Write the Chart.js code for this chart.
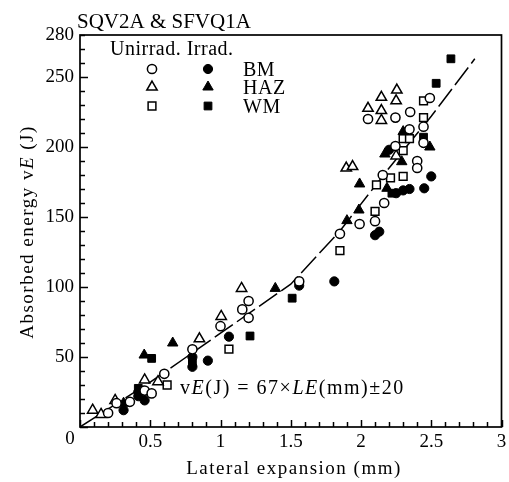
<!DOCTYPE html>
<html>
<head>
<meta charset="UTF-8">
<title>SQV2A & SFVQ1A</title>
<script src="https://cdn.jsdelivr.net/npm/chart.js"></script>
<style>
  body { margin: 0; background: #fff; }
  canvas { display: block; }
</style>
</head>
<body>
<canvas id="chart" width="509" height="482"></canvas>
<script>
// lateral expansion (mm) vs absorbed energy (J), pairs of [LE, vE]
const bmUnirrad = [[0.20,10],[0.26,17],[0.355,18],[0.46,26],[0.51,24],[0.60,38],[0.80,55.5],[1.00,72],
  [1.155,84],[1.20,90],[1.20,78],[1.56,104],[1.85,138],[1.99,145],[2.10,147],[2.155,180],[2.165,160],
  [2.05,220],[2.245,221],[2.35,225],[2.445,214.5],[2.345,212.6],[2.445,203],[2.245,200.7],[2.40,190],
  [2.40,185],[2.49,235]];
const bmIrrad = [[0.31,12],[0.415,22],[0.415,25],[0.46,19],[0.80,43],[0.80,50],[0.91,47.4],[1.06,64.5],
  [1.56,101],[1.81,104],[2.10,137],[2.13,139.5],[2.25,167],[2.30,169],[2.345,170],[2.45,170.5],
  [2.50,179],[2.20,198]];
const hazUnirrad = [[0.09,12],[0.15,9],[0.25,19],[0.46,33.6],[0.555,32.4],[0.85,63],[1.005,79],[1.15,99],
  [1.895,185],[1.94,186],[2.05,227.6],[2.145,235.5],[2.145,226],[2.145,219],[2.255,240.7],[2.25,233],
  [2.25,193.6]];
const hazIrrad = [[0.31,17],[0.457,51.4],[0.66,60],[1.39,99],[1.90,147.4],[1.985,155],[1.99,173.6],
  [2.185,170.5],[2.17,195],[2.29,189.5],[2.30,211],[2.49,200]];
const wmUnirrad = [[0.62,30],[1.06,55.7],[1.85,126],[2.10,154],[2.11,173],[2.21,178],[2.30,179],
  [2.30,197.4],[2.30,206],[2.345,206],[2.445,221],[2.445,233]];
const wmIrrad = [[0.415,27.6],[0.51,49],[0.80,46],[1.21,65],[1.51,92],[2.22,167],[2.445,207],
  [2.535,245.5],[2.64,263]];

// trend curve
const fitLE = [0, 0.5, 1.0, 1.5, 1.85, 2.2, 2.5, 2.81];
const fitE = [0, 32, 67, 102, 140, 185, 222, 263];

const xTickLabels = ['0.5', '1', '1.5', '2', '2.5', '3'];
const yTickLabels = ['50', '100', '150', '200', '250', '280'];
const groups = ['BM', 'HAZ', 'WM'];

const serif = '"Liberation Serif", "DejaVu Serif", serif';

const toPts = arr => arr.map(([x, y]) => ({ x, y }));

const markers = {
  circle: { pointStyle: 'circle', r: 4.6 },
  triangle: { pointStyle: 'triangle', r: 6 },
  rect: { pointStyle: 'rect', r: 5.5 }
};

function series(label, arr, shape, filled) {
  return {
    label: label,
    data: toPts(arr),
    pointStyle: markers[shape].pointStyle,
    pointRadius: markers[shape].r,
    backgroundColor: filled ? '#000' : '#fff',
    borderColor: '#000',
    borderWidth: filled ? 1 : 1.5,
    showLine: false
  };
}

function labelOf(v, list) {
  const s = String(Math.round(v * 10) / 10);
  return list.includes(s) ? s : '';
}

// draws a row of text pieces, some of them italic
function drawRuns(ctx, runs, x, y, size, align) {
  let total = 0;
  runs.forEach(([t, it]) => {
    ctx.font = (it ? 'italic ' : '') + size + 'px ' + serif;
    total += ctx.measureText(t).width;
  });
  let cx = align === 'center' ? x - total / 2 : x;
  ctx.textAlign = 'left';
  runs.forEach(([t, it]) => {
    ctx.font = (it ? 'italic ' : '') + size + 'px ' + serif;
    ctx.fillText(t, cx, y);
    cx += ctx.measureText(t).width;
  });
}

const framePlugin = {
  id: 'frame',
  afterDatasetsDraw(chart) {
    const { ctx, chartArea: a, scales } = chart;
    ctx.save();
    ctx.setLineDash([]);
    ctx.strokeStyle = '#000';
    ctx.lineWidth = 1.7;
    ctx.strokeRect(a.left, a.top, a.right - a.left, a.bottom - a.top);
    // inward ticks: every 10 J, every 0.1 mm
    ctx.lineWidth = 1.5;
    for (let i = 0; i <= 28; i++) {
      const py = Math.round(scales.y.getPixelForValue(i * 10)) + 0.5;
      ctx.beginPath();
      ctx.moveTo(a.left, py);
      ctx.lineTo(a.left + (i % 5 === 0 ? 8 : 5), py);
      ctx.stroke();
    }
    for (let i = 0; i <= 30; i++) {
      const px = Math.round(scales.x.getPixelForValue(i / 10)) + 0.5;
      ctx.beginPath();
      ctx.moveTo(px, a.bottom);
      ctx.lineTo(px, a.bottom - (i % 5 === 0 ? 7 : 5));
      ctx.stroke();
    }
    ctx.restore();
  },
  afterDraw(chart) {
    const { ctx } = chart;
    ctx.save();
    ctx.fillStyle = '#000';
    ctx.textBaseline = 'alphabetic';
    ctx.letterSpacing = '0px';

    // heading
    drawRuns(ctx, [['SQV2A & SFVQ1A', false]], 77, 28, 21, 'left');

    // shared origin label
    ctx.font = '19px ' + serif;
    ctx.textAlign = 'center';
    ctx.fillText('0', 70, 444);

    // axis titles
    ctx.letterSpacing = '1.5px';
    drawRuns(ctx, [['Lateral expansion (mm)', false]], 294, 474, 19, 'center');
    ctx.save();
    ctx.translate(33, 232);
    ctx.rotate(-Math.PI / 2);
    drawRuns(ctx, [['Absorbed energy v', false], ['E', true], [' (J)', false]], 0, 0, 19, 'center');
    ctx.restore();

    // legend
    ctx.letterSpacing = '0.5px';
    drawRuns(ctx, [['Unirrad. Irrad.', false]], 110, 55, 20, 'left');
    const shapes = ['circle', 'triangle', 'rect'];
    const rows = [69, 87, 106];
    groups.forEach((g, i) => {
      const m = markers[shapes[i]];
      [[152, false], [208, true]].forEach(([x, filled]) => {
        ctx.fillStyle = filled ? '#000' : '#fff';
        ctx.strokeStyle = '#000';
        ctx.lineWidth = filled ? 1 : 1.5;
        Chart.helpers.drawPoint(ctx, { pointStyle: m.pointStyle, radius: m.r, rotation: 0, borderWidth: ctx.lineWidth }, x, rows[i]);
      });
      ctx.fillStyle = '#000';
      drawRuns(ctx, [[g, false]], 243, rows[i] + 7, 20, 'left');
    });

    // formula
    ctx.letterSpacing = '1.5px';
    drawRuns(ctx, [['v', false], ['E', true], ['(J) = 67×', false], ['LE', true], ['(mm)±20', false]], 180, 394, 20, 'left');
    ctx.restore();
  }
};

const datasets = [
  series('BM unirrad.', bmUnirrad, 'circle', false),
  series('BM irrad.', bmIrrad, 'circle', true),
  series('HAZ unirrad.', hazUnirrad, 'triangle', false),
  series('HAZ irrad.', hazIrrad, 'triangle', true),
  series('WM unirrad.', wmUnirrad, 'rect', false),
  series('WM irrad.', wmIrrad, 'rect', true),
  {
    label: 'trend',
    data: fitLE.map((x, i) => ({ x: x, y: fitE[i] })),
    showLine: true,
    pointRadius: 0,
    borderColor: '#000',
    borderWidth: 1.5,
    borderDash: [22, 5],
    fill: false,
    order: 10
  }
];

new Chart(document.getElementById('chart').getContext('2d'), {
  type: 'scatter',
  data: { datasets: datasets },
  options: {
    responsive: false,
    animation: false,
    layout: { padding: { left: 0, top: 35, right: 6, bottom: 0 } },
    plugins: { legend: { display: false }, tooltip: { enabled: false } },
    scales: {
      x: {
        type: 'linear', min: 0, max: 3,
        grid: { display: false, drawTicks: false },
        border: { display: false },
        ticks: {
          stepSize: 0.5, autoSkip: false, maxRotation: 0, padding: 4,
          color: '#000', font: { family: serif, size: 19 },
          callback: v => labelOf(v, xTickLabels)
        },
        afterFit: s => { s.height = 55; s.paddingLeft = 0; s.paddingRight = 0; }
      },
      y: {
        type: 'linear', min: 0, max: 280,
        grid: { display: false, drawTicks: false },
        border: { display: false },
        ticks: {
          stepSize: 50, autoSkip: false, padding: 6,
          color: '#000', font: { family: serif, size: 19 },
          callback: v => labelOf(v, yTickLabels)
        },
        afterFit: s => { s.width = 80; s.paddingTop = 0; s.paddingBottom = 0; }
      }
    }
  },
  plugins: [framePlugin]
});
</script>
</body>
</html>
